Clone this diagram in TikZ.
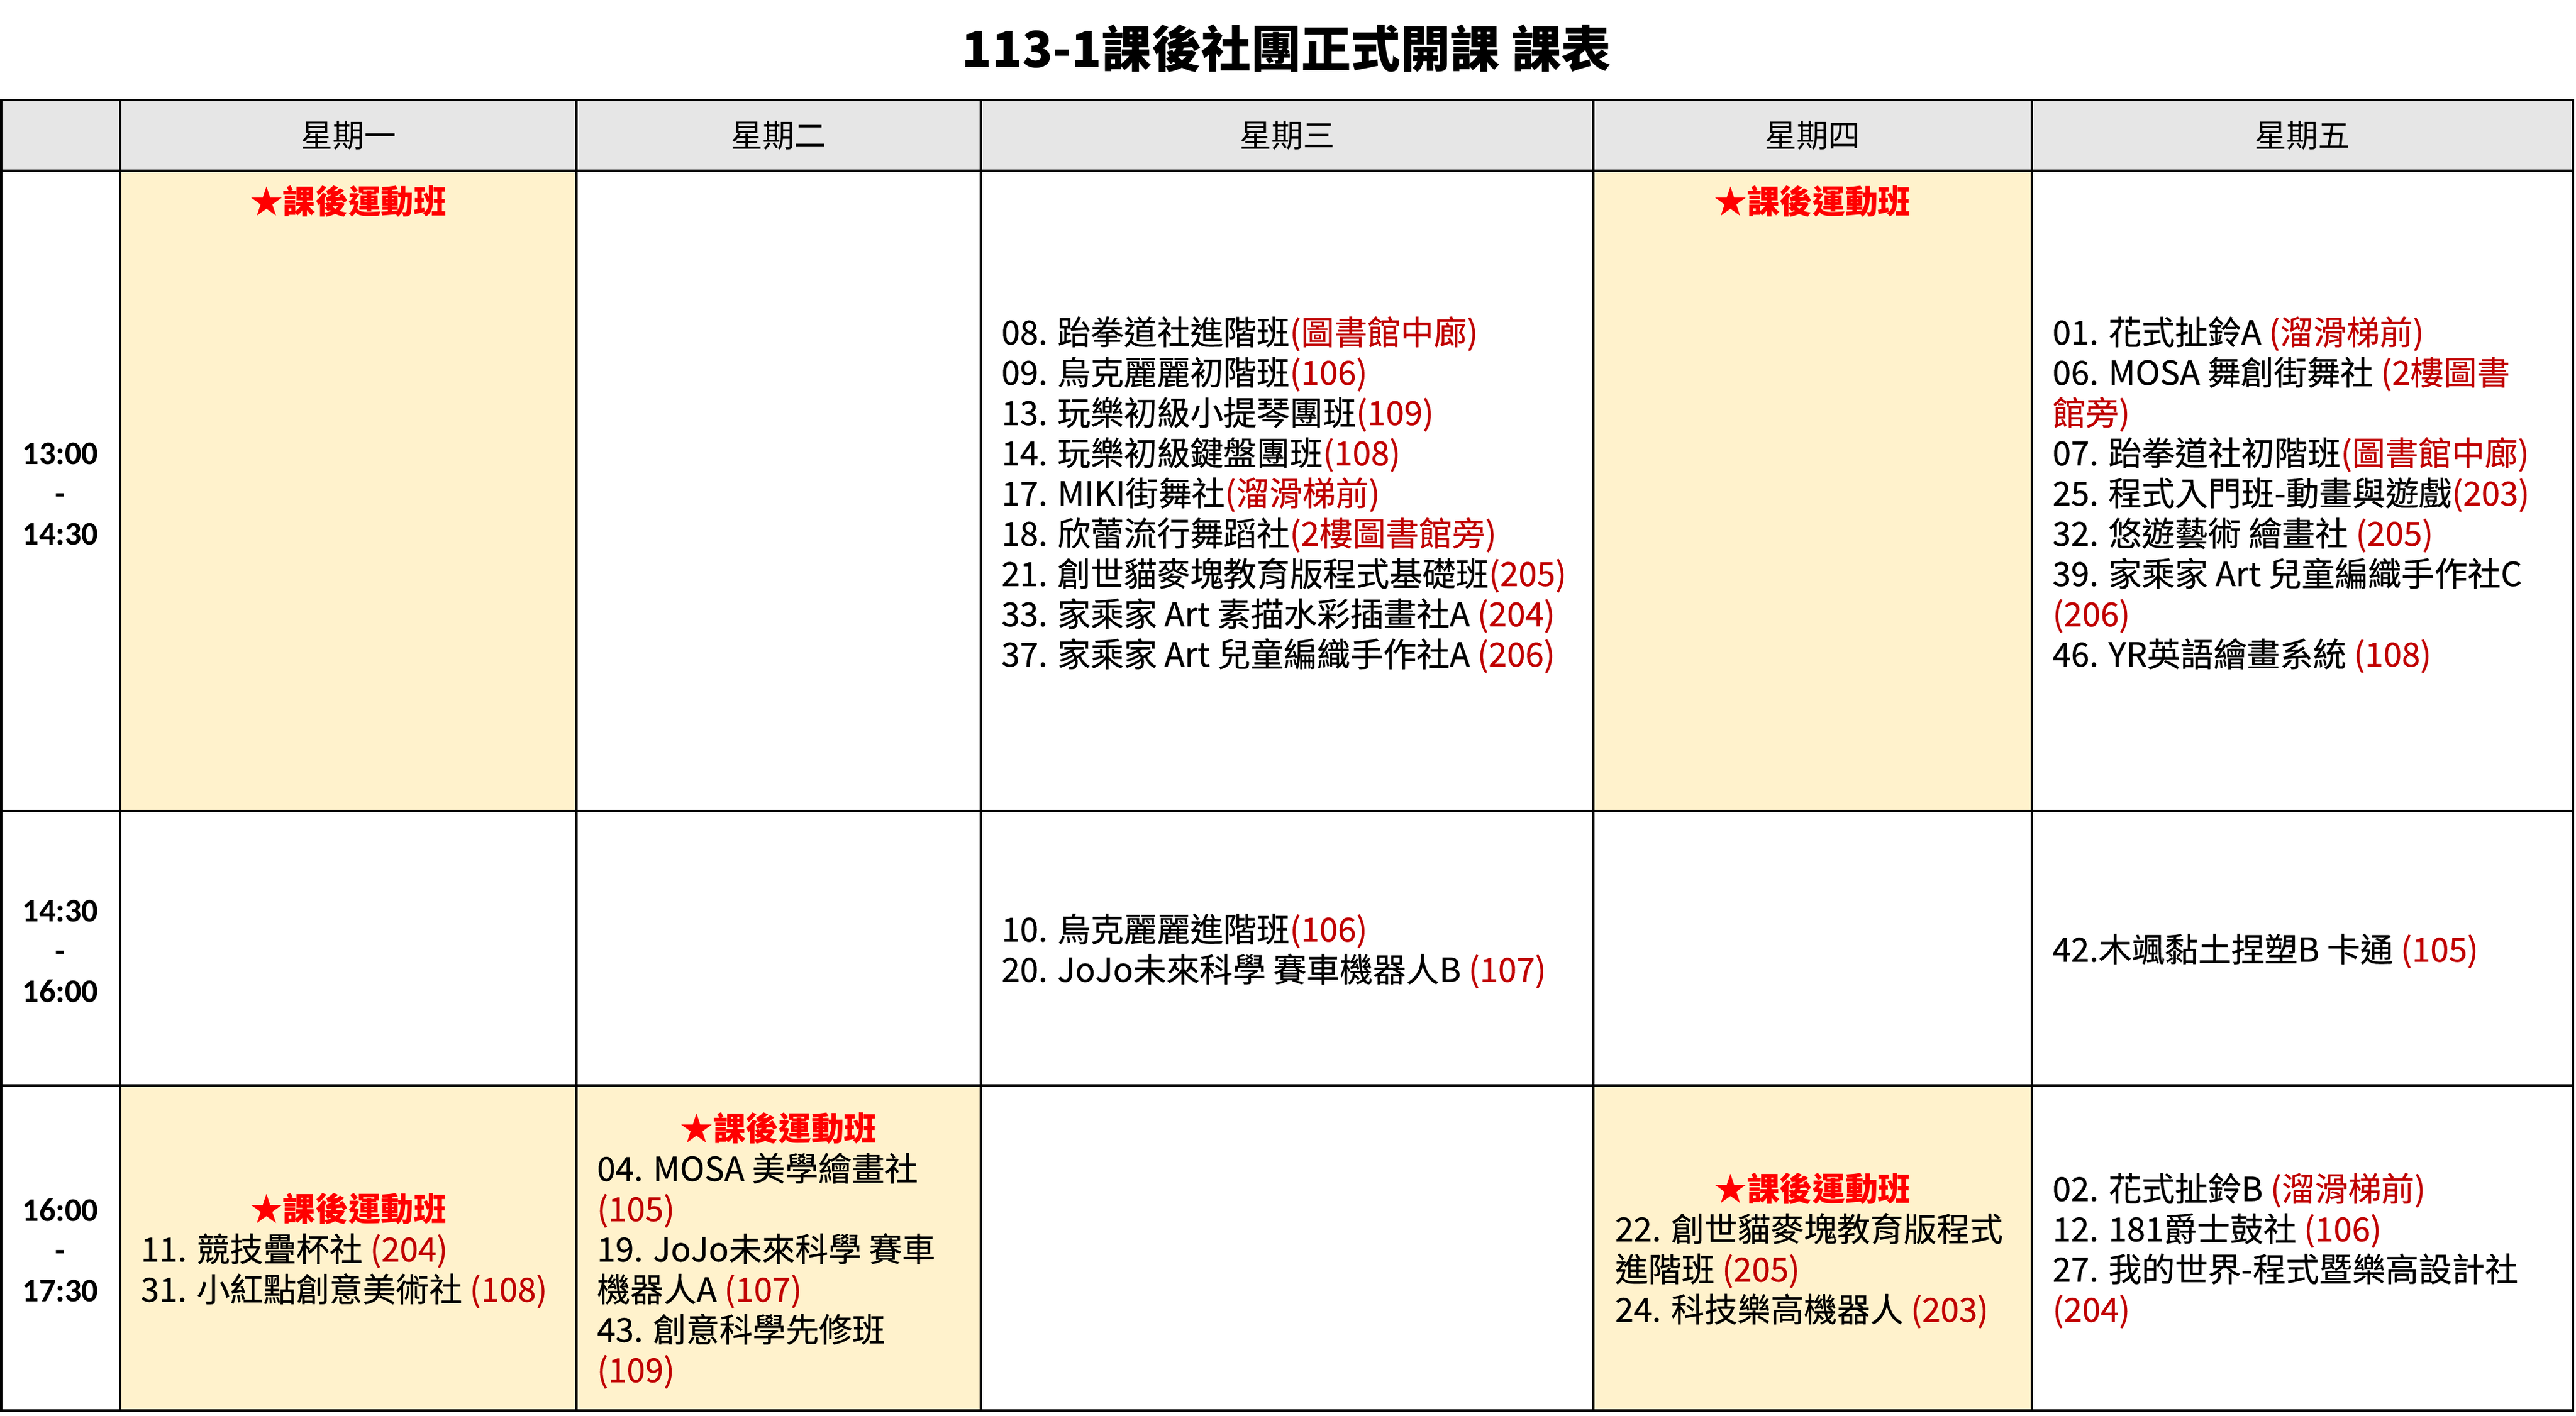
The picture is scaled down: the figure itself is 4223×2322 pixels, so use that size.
\documentclass[tikz,border=0pt]{standalone}
\usepackage{fontspec}
\setmainfont{Noto Sans CJK TC}
\newfontfamily\bodyfont{Noto Sans CJK TC}[FakeBold=0.4]
\newfontfamily\timefont{Carlito}
\definecolor{locred}{HTML}{C00000}
\definecolor{starred}{HTML}{FF0000}
\definecolor{cellyellow}{HTML}{FFF2CC}
\definecolor{headgray}{HTML}{E6E6E6}
\newcommand\roomtxt[1]{\textcolor{locred}{#1}}
\begin{document}
\begin{tikzpicture}[x=0.25pt,y=-0.25pt,
  body/.style={anchor=base west,inner sep=0pt,font=\bodyfont\fontsize{13.6pt}{16pt}\selectfont},
  starlbl/.style={anchor=base,inner sep=0pt,text=starred,font=\fontsize{13.4pt}{16pt}\selectfont\bfseries},
  head/.style={anchor=base,inner sep=0pt,font=\fontsize{13pt}{16pt}\selectfont},
  timelbl/.style={anchor=base,inner sep=0pt,font=\timefont\fontsize{13.5pt}{16pt}\selectfont\bfseries},
  gridline/.style={line width=1pt,black,line cap=rect}]
\useasboundingbox (0,0) rectangle (4223,2322);
\fill[white] (0,0) rectangle (4223,2322);
% fills
\fill[headgray] (2,164) rectangle (4218,280);
\fill[cellyellow] (197,280) rectangle (945,1330);
\fill[cellyellow] (2612,280) rectangle (3331,1330);
\fill[cellyellow] (197,1780) rectangle (945,2313);
\fill[cellyellow] (945,1780) rectangle (1608,2313);
\fill[cellyellow] (2612,1780) rectangle (3331,2313);
% grid
\foreach \y in {164,280,1330,1780,2313} \draw[gridline] (2,\y) -- (4218,\y);
\foreach \x in {2,197,945,1608,2612,3331,4218} \draw[gridline] (\x,164) -- (\x,2313);
% title
\node[anchor=base,inner sep=0pt,font=\fontsize{20.4pt}{24pt}\selectfont\bfseries] (title) at (2109,111) {113-1課後社團正式開課 課表};
% headers
\node[head] (h1) at (571,242) {星期一};
\node[head] (h2) at (1276.5,242) {星期二};
\node[head] (h3) at (2110,242) {星期三};
\node[head] (h4) at (2971.5,242) {星期四};
\node[head] (h5) at (3774.5,242) {星期五};
% times
\node[timelbl] (t1a) at (99,761) {13:00};
\node[timelbl] (t1b) at (99,827) {-};
\node[timelbl] (t1c) at (99,893) {14:30};
\node[timelbl] (t2a) at (99,1511) {14:30};
\node[timelbl] (t2b) at (99,1577) {-};
\node[timelbl] (t2c) at (99,1643) {16:00};
\node[timelbl] (t3a) at (99,2002.5) {16:00};
\node[timelbl] (t3b) at (99,2068.5) {-};
\node[timelbl] (t3c) at (99,2134.5) {17:30};
% row 1
\node[starlbl] (s1) at (571,351) {★課後運動班};
\node[starlbl] (s4) at (2971.5,351) {★課後運動班};
\node[body] (a31) at (1641,565) {08. 跆拳道社進階班\roomtxt{(圖書館中廊)}};
\node[body] (a32) at (1641,631) {09. 烏克麗麗初階班\roomtxt{(106)}};
\node[body] (a33) at (1641,697) {13. 玩樂初級小提琴團班\roomtxt{(109)}};
\node[body] (a34) at (1641,763) {14. 玩樂初級鍵盤團班\roomtxt{(108)}};
\node[body] (a35) at (1641,829) {17. MIKI街舞社\roomtxt{(溜滑梯前)}};
\node[body] (a36) at (1641,895) {18. 欣蕾流行舞蹈社\roomtxt{(2樓圖書館旁)}};
\node[body] (a37) at (1641,961) {21. 創世貓麥塊教育版程式基礎班\roomtxt{(205)}};
\node[body] (a38) at (1641,1027) {33. 家乘家 Art 素描水彩插畫社A \roomtxt{(204)}};
\node[body] (a39) at (1641,1093) {37. 家乘家 Art 兒童編織手作社A \roomtxt{(206)}};
\node[body] (a51) at (3364,565) {01. 花式扯鈴A \roomtxt{(溜滑梯前)}};
\node[body] (a52) at (3364,631) {06. MOSA 舞創街舞社 \roomtxt{(2樓圖書}};
\node[body] (a53) at (3364,697) {\roomtxt{館旁)}};
\node[body] (a54) at (3364,763) {07. 跆拳道社初階班\roomtxt{(圖書館中廊)}};
\node[body] (a55) at (3364,829) {25. 程式入門班-動畫與遊戲\roomtxt{(203)}};
\node[body] (a56) at (3364,895) {32. 悠遊藝術 繪畫社 \roomtxt{(205)}};
\node[body] (a57) at (3364,961) {39. 家乘家 Art 兒童編織手作社C};
\node[body] (a58) at (3364,1027) {\roomtxt{(206)}};
\node[body] (a59) at (3364,1093) {46. YR英語繪畫系統 \roomtxt{(108)}};
% row 2
\node[body] (b31) at (1641,1544) {10. 烏克麗麗進階班\roomtxt{(106)}};
\node[body] (b32) at (1641,1610) {20. JoJo未來科學 賽車機器人B \roomtxt{(107)}};
\node[body] (b51) at (3364,1577) {42.木颯黏土捏塑B 卡通 \roomtxt{(105)}};
% row 3
\node[starlbl] (s31) at (571,2002.5) {★課後運動班};
\node[body] (c12) at (230,2068.5) {11. 競技疊杯社 \roomtxt{(204)}};
\node[body] (c13) at (230,2134.5) {31. 小紅點創意美術社 \roomtxt{(108)}};
\node[starlbl] (s32) at (1276.5,1870.5) {★課後運動班};
\node[body] (c22) at (978,1936.5) {04. MOSA 美學繪畫社};
\node[body] (c23) at (978,2002.5) {\roomtxt{(105)}};
\node[body] (c24) at (978,2068.5) {19. JoJo未來科學 賽車};
\node[body] (c25) at (978,2134.5) {機器人A \roomtxt{(107)}};
\node[body] (c26) at (978,2200.5) {43. 創意科學先修班};
\node[body] (c27) at (978,2266.5) {\roomtxt{(109)}};
\node[starlbl] (s34) at (2971.5,1969.5) {★課後運動班};
\node[body] (c42) at (2647,2035.5) {22. 創世貓麥塊教育版程式};
\node[body] (c43) at (2647,2101.5) {進階班 \roomtxt{(205)}};
\node[body] (c44) at (2647,2167.5) {24. 科技樂高機器人 \roomtxt{(203)}};
\node[body] (c51) at (3364,1969.5) {02. 花式扯鈴B \roomtxt{(溜滑梯前)}};
\node[body] (c52) at (3364,2035.5) {12. 181爵士鼓社 \roomtxt{(106)}};
\node[body] (c53) at (3364,2101.5) {27. 我的世界-程式暨樂高設計社};
\node[body] (c54) at (3364,2167.5) {\roomtxt{(204)}};
\end{tikzpicture}
\end{document}
